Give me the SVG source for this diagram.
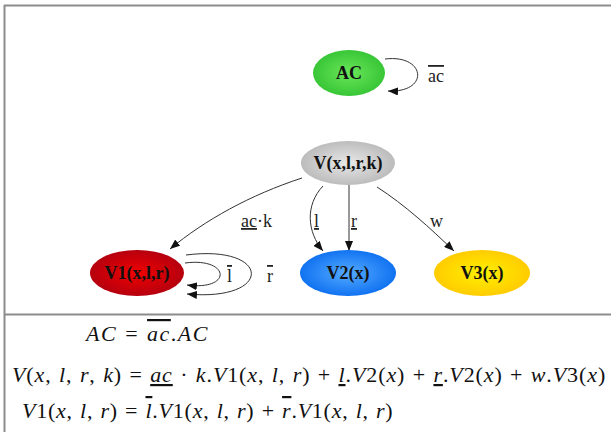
<svg xmlns="http://www.w3.org/2000/svg" width="611" height="432" viewBox="0 0 611 432">
<style>
.frame{stroke:#8c8c8c;stroke-width:2;fill:none}
.edge{stroke:#333;stroke-width:1;fill:none;marker-end:url(#ah)}
.nl{font-family:"Liberation Serif","Times New Roman",serif;font-weight:bold;font-size:18px;fill:#111;text-anchor:middle}
.el{font-family:"Liberation Serif","Times New Roman",serif;font-size:18px;fill:#222}
.eq{font-family:"Liberation Serif","DejaVu Serif",serif;font-size:22px;fill:#111;letter-spacing:1px;word-spacing:1px}
.i{font-style:italic}
.ul{text-decoration:underline}
.ol{text-decoration:overline}
</style>
<defs>
<marker id="ah" markerWidth="10" markerHeight="8" refX="10" refY="4" orient="auto" markerUnits="userSpaceOnUse">
<path d="M0,0 L10,4 L0,8 Z" fill="#111"/>
</marker>
<radialGradient id="gG" cx="50%" cy="50%" r="55%"><stop offset="0" stop-color="#6be65a"/><stop offset="1" stop-color="#33c333"/></radialGradient>
<radialGradient id="gY" cx="50%" cy="50%" r="55%"><stop offset="0" stop-color="#e8e8e8"/><stop offset="1" stop-color="#b8b8b8"/></radialGradient>
<radialGradient id="gR" cx="50%" cy="50%" r="55%"><stop offset="0" stop-color="#f00000"/><stop offset="1" stop-color="#b00010"/></radialGradient>
<radialGradient id="gB" cx="50%" cy="50%" r="55%"><stop offset="0" stop-color="#55aaff"/><stop offset="1" stop-color="#0a6df0"/></radialGradient>
<radialGradient id="gO" cx="50%" cy="50%" r="55%"><stop offset="0" stop-color="#fff000"/><stop offset="1" stop-color="#ffc800"/></radialGradient>
</defs>
<rect width="611" height="432" fill="#fff"/>
<g id="frame">
<line class="frame" x1="4" y1="5.5" x2="611" y2="5.5"/>
<line class="frame" x1="4.5" y1="5" x2="4.5" y2="432"/>
<line class="frame" x1="4" y1="314.5" x2="611" y2="314.5"/>
</g>
<g id="connectors">
<path class="edge" d="M385,59 C426,54 430,93 388,91"/>
<path class="edge" d="M185,263 C230,257 233,291 187,285"/>
<path class="edge" d="M186,255 C272,244 274,302 187,294"/>
<path class="edge" d="M302,178 C250,195 205,220 170,249"/>
<path class="edge" d="M323,186 C305,205 307,232 323,251"/>
<path class="edge" d="M349,185 L349,251"/>
<path class="edge" d="M377,187 C405,205 430,228 454,251"/>
<text class="el" x="428" y="82"><tspan class="ol">ac</tspan></text>
<text class="el" x="227" y="282"><tspan class="ol">l</tspan></text>
<text class="el" x="267" y="282"><tspan class="ol">r</tspan></text>
<text class="el" x="241" y="227"><tspan class="ul">ac</tspan>·k</text>
<text class="el" x="314" y="227"><tspan class="ul">l</tspan></text>
<text class="el" x="351" y="227"><tspan class="ul">r</tspan></text>
<text class="el" x="430" y="227">w</text>
</g>
<g id="AC">
<ellipse cx="349" cy="73" rx="36" ry="23" fill="url(#gG)"/>
<text class="nl" x="349" y="79">AC</text>
</g>
<g id="V">
<ellipse cx="348" cy="163" rx="47" ry="22" fill="url(#gY)"/>
<text class="nl" x="348" y="169">V(x,l,r,k)</text>
</g>
<g id="V1">
<ellipse cx="137" cy="273" rx="47" ry="23" fill="url(#gR)"/>
<text class="nl" x="137" y="279">V1(x,l,r)</text>
</g>
<g id="V2">
<ellipse cx="348" cy="273" rx="48" ry="23" fill="url(#gB)"/>
<text class="nl" x="348" y="279">V2(x)</text>
</g>
<g id="V3">
<ellipse cx="482" cy="273" rx="48" ry="23" fill="url(#gO)"/>
<text class="nl" x="482" y="279">V3(x)</text>
</g>
<g id="equations">
<text class="eq" x="86" y="341" style="letter-spacing:1.5px"><tspan class="i">AC</tspan> = <tspan class="i ol">ac</tspan>.<tspan class="i">AC</tspan></text>
<text class="eq" x="12" y="382" style="letter-spacing:0.9px"><tspan class="i">V</tspan>(<tspan class="i">x</tspan>, <tspan class="i">l</tspan>, <tspan class="i">r</tspan>, <tspan class="i">k</tspan>) = <tspan class="i ul">ac</tspan> · <tspan class="i">k</tspan>.<tspan class="i">V</tspan>1(<tspan class="i">x</tspan>, <tspan class="i">l</tspan>, <tspan class="i">r</tspan>) + <tspan class="i ul">l</tspan>.<tspan class="i">V</tspan>2(<tspan class="i">x</tspan>) + <tspan class="i ul">r</tspan>.<tspan class="i">V</tspan>2(<tspan class="i">x</tspan>) + <tspan class="i">w</tspan>.<tspan class="i">V</tspan>3(<tspan class="i">x</tspan>)</text>
<text class="eq" x="22" y="418" style="letter-spacing:0.75px"><tspan class="i">V</tspan>1(<tspan class="i">x</tspan>, <tspan class="i">l</tspan>, <tspan class="i">r</tspan>) = <tspan class="i ol">l</tspan>.<tspan class="i">V</tspan>1(<tspan class="i">x</tspan>, <tspan class="i">l</tspan>, <tspan class="i">r</tspan>) + <tspan class="i ol">r</tspan>.<tspan class="i">V</tspan>1(<tspan class="i">x</tspan>, <tspan class="i">l</tspan>, <tspan class="i">r</tspan>)</text>
</g>
</svg>
